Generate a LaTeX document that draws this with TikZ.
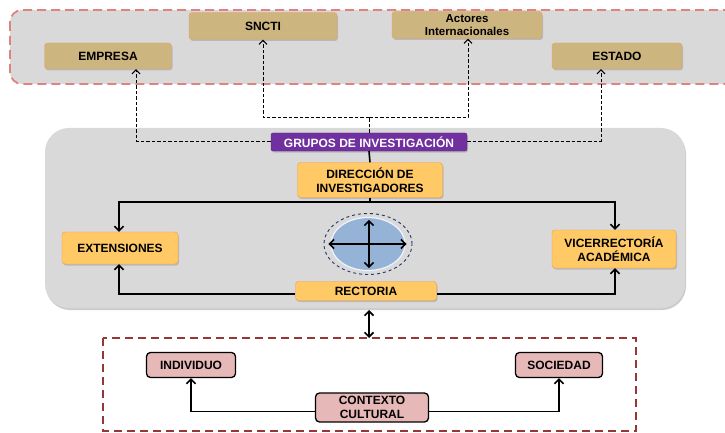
\documentclass[tikz,border=0pt]{standalone}
\usepackage{fontspec}
\setmainfont{Liberation Sans}
\usepackage{tikz}
\definecolor{panelgray}{RGB}{217,217,217}
\definecolor{tanfill}{RGB}{205,181,128}
\definecolor{tanline}{RGB}{236,160,100}
\definecolor{goldfill}{RGB}{255,202,102}
\definecolor{goldline}{RGB}{247,150,70}
\definecolor{grouppurple}{RGB}{112,48,160}
\definecolor{rosefill}{RGB}{230,185,184}
\definecolor{topdash}{RGB}{222,130,130}
\definecolor{botdash}{RGB}{149,55,53}
\definecolor{ovalfill}{RGB}{149,179,215}
\definecolor{ovalnavy}{RGB}{31,56,100}
\usetikzlibrary{shapes,arrows.meta,positioning,shadows,calc}

\begin{document}
\begin{tikzpicture}[
    x=1pt, y=-1pt,
    every node/.style={font=\fontsize{12}{14}\selectfont\bfseries, align=center, inner sep=1pt},
    shade/.style={drop shadow={shadow xshift=1pt, shadow yshift=-1.5pt, opacity=0.35}},
    actor/.style={rectangle, rounded corners=3pt, draw=tanline, fill=tanfill, shade},
    unit/.style={rectangle, rounded corners=3pt, draw=goldline, fill=goldfill, shade},
    group/.style={rectangle, rounded corners=2pt, draw=grouppurple!80!black, fill=grouppurple, text=white, shade},
    culture/.style={rectangle, rounded corners=4pt, draw=black, line width=1.3pt, fill=rosefill},
    link/.style={dash pattern=on 3.5pt off 2pt, line width=1pt},
    linkarrow/.style={link, -{Straight Barb[length=4pt, width=8pt]}},
    flow/.style={line width=1.6pt, -{Straight Barb[length=4.5pt, width=9pt]}},
    twoway/.style={line width=1.6pt, {Straight Barb[length=4.5pt, width=9pt]}-{Straight Barb[length=4.5pt, width=9pt]}},
    flowline/.style={line width=1.6pt}
]
\useasboundingbox (0,0) rectangle (725,433);

% panels
\draw[topdash, dash pattern=on 9pt off 5pt, line width=1.8pt, fill=panelgray, rounded corners=12pt]
    (10,10) rectangle (745,84);
\fill[panelgray, rounded corners=24pt, drop shadow={shadow xshift=1pt, shadow yshift=-2pt, opacity=0.4}]
    (45,128) rectangle (685,308);
\draw[botdash, dash pattern=on 8pt off 5pt, line width=1.8pt]
    (103,338) rectangle (636,431);

% actores externos
\node[actor, minimum width=127pt, minimum height=26pt] (empresa) at (108,56) {EMPRESA};
\node[actor, minimum width=148pt, minimum height=27pt] (sncti) at (263,26) {SNCTI};
\node[actor, minimum width=150pt, minimum height=27pt, font=\fontsize{11.5}{12.5}\selectfont\bfseries] (actores) at (467,25) {Actores\\Internacionales};
\node[actor, minimum width=130pt, minimum height=26pt] (estado) at (617,56) {ESTADO};

% universidad
\node[group, minimum width=196pt, minimum height=18pt] (grupos) at (369,142) {GRUPOS DE INVESTIGACIÓN};
\node[unit, minimum width=145pt, minimum height=35pt] (direccion) at (370,180) {DIRECCIÓN DE\\INVESTIGADORES};
\node[unit, minimum width=116pt, minimum height=32pt] (extensiones) at (120,248) {EXTENSIONES};
\node[unit, minimum width=124pt, minimum height=38pt] (vicerrectoria) at (614,249) {VICERRECTORÍA\\ACADÉMICA};
\node[unit, minimum width=141pt, minimum height=19pt] (rectoria) at (366,291) {RECTORIA};

% contexto
\node[culture, minimum width=89pt, minimum height=25pt] (individuo) at (191,365) {INDIVIDUO};
\node[culture, minimum width=87pt, minimum height=25pt] (sociedad) at (559,365) {SOCIEDAD};
\node[culture, minimum width=113pt, minimum height=29pt, inner sep=0pt, font=\fontsize{12}{13.5}\selectfont\bfseries] (contexto) at (372,407.5) {CONTEXTO\\CULTURAL};

% ovalo central
\node[ellipse, draw=ovalnavy, dashed, line width=0.9pt, minimum width=88pt, minimum height=61pt] (oval) at (368,244) {};
\node[ellipse, draw=white!85!ovalfill, line width=1.2pt, fill=ovalfill, minimum width=74pt, minimum height=53pt] (core) at (368,244) {};
\draw[twoway] ([xshift=-2pt]core.west) -- ([xshift=1pt]core.east);
\draw[twoway] ([xshift=1pt, yshift=-3pt]core.north) -- ([xshift=1pt, yshift=3pt]core.south);

% enlaces externos
\coordinate (topfork) at (369,118);
\draw[link] (grupos.north) -- (topfork);
\draw[linkarrow] (topfork) -| (sncti.south);
\draw[linkarrow] (topfork) -| ([xshift=1pt]actores.south);
\draw[linkarrow] ([yshift=1pt]grupos.west) -| ([xshift=28pt]empresa.south);
\draw[linkarrow] ([yshift=1pt]grupos.east) -| ([xshift=-16pt]estado.south);

% flujo interno
\draw[flowline] (grupos.south) -- (direccion.north);
\coordinate (midfork) at (370,202);
\draw[flowline] (direccion.south) -- (midfork);
\draw[flow] (midfork) -| ([xshift=-1pt]extensiones.north);
\draw[flow] (midfork) -| ([xshift=1pt]vicerrectoria.north);
\draw[flow] ([yshift=-3pt]rectoria.west) -| ([xshift=-1pt]extensiones.south);
\draw[flow] ([yshift=-3pt]rectoria.east) -| ([xshift=1pt]vicerrectoria.south);

% contexto cultural
\coordinate (linkup) at (369,310);
\coordinate (linkdown) at (369,338);
\draw[twoway] (linkup) -- (linkdown);
\draw[flow] ([yshift=-4pt]contexto.west) -| (individuo.south);
\draw[flow] ([yshift=-4pt]contexto.east) -| (sociedad.south);

\end{tikzpicture}
\end{document}
